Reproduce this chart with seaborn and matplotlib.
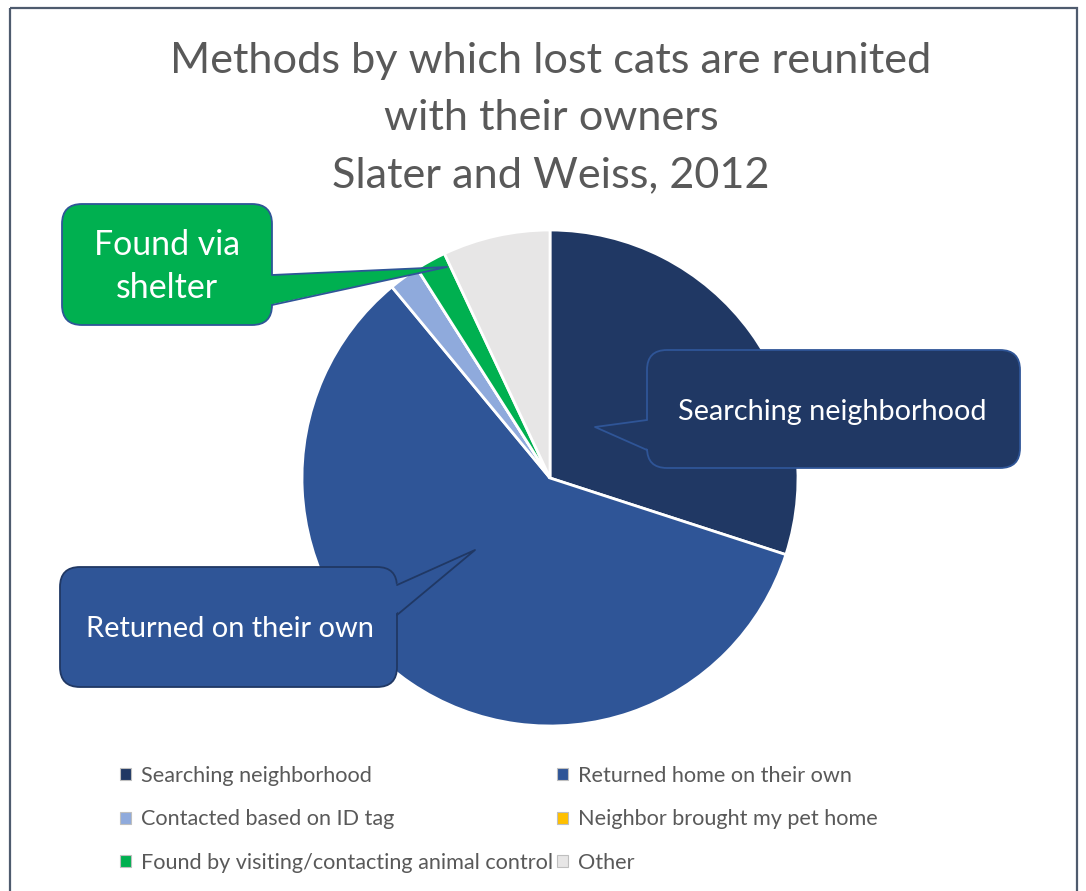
import numpy as np
import matplotlib
matplotlib.use("Agg")
import matplotlib.pyplot as plt
import seaborn as sns
from matplotlib.patches import FancyBboxPatch, Polygon, Rectangle, Patch
from matplotlib.lines import Line2D
from matplotlib.textpath import TextPath
from matplotlib.font_manager import FontProperties

# ---- data ----
categories = ["Searching neighborhood", "Returned home on their own",
              "Contacted based on ID tag", "Neighbor brought my pet home",
              "Found by visiting/contacting animal control", "Other"]
values = [30, 59, 2, 0, 2, 7]
colors = ["#203864", "#2F5597", "#8FAADC", "#FFC000", "#00B050", "#E7E6E6"]
title_lines = ["Methods by which lost cats are reunited",
               "with their owners",
               "Slater and Weiss, 2012"]

sns.set_theme(style="white")
FAMILY = "Lato"
plt.rcParams["font.family"] = [FAMILY, "DejaVu Sans"]

W, H, DPI = 1086, 891, 100
fig = plt.figure(figsize=(W / DPI, H / DPI), dpi=DPI)
fig.patch.set_facecolor("white")


def fit(s, target_px):
    tp = TextPath((0, 0), s, size=100, prop=FontProperties(family=FAMILY))
    w = tp.get_extents().width
    return target_px * 100 * 72 / (w * DPI)


# ---- pie ----
cx, cy, r = 550, 478, 248
pax = fig.add_axes([(cx - r) / W, 1 - (cy + r) / H, 2 * r / W, 2 * r / H])
pal = sns.color_palette(colors)
pax.pie(values, colors=pal, startangle=90, counterclock=False, radius=1,
        wedgeprops=dict(edgecolor="white", linewidth=2.0))
pax.set_xlim(-1.0, 1.0)
pax.set_ylim(-1.0, 1.0)
pax.set_aspect("equal")
pax.axis("off")

# ---- overlay (pixel coordinates) ----
ov = fig.add_axes([0, 0, 1, 1], zorder=5)
ov.set_xlim(0, W)
ov.set_ylim(H, 0)
ov.patch.set_alpha(0)
ov.axis("off")

ov.add_patch(Rectangle((10, 8), 1067, 900, fill=False, edgecolor="#4E5B6E", lw=1.6))

# title
tsize = fit(title_lines[0], 755)
for line, base in zip(title_lines, [73, 130, 187]):
    ov.text(551, base, line, ha="center", va="baseline", fontsize=tsize, color="#595959")


def callout(x0, y0, x1, y1, tail, face, edge, rad=20):
    box = FancyBboxPatch((x0, y0), x1 - x0, y1 - y0,
                         boxstyle=f"round,pad=0,rounding_size={rad}",
                         facecolor=face, edgecolor=edge, lw=1.3, zorder=2)
    ov.add_patch(box)
    b1, tip, b2 = tail
    side = -1 if b1[0] <= x0 + 1 else 1
    ib1 = (b1[0] - side * 3, b1[1])
    ib2 = (b2[0] - side * 3, b2[1])
    ov.add_patch(Polygon([ib1, tip, ib2], closed=True, facecolor=face,
                         edgecolor="none", zorder=3))
    ov.add_line(Line2D([b1[0], tip[0], b2[0]], [b1[1], tip[1], b2[1]],
                       color=edge, lw=1.3, zorder=4))


callout(62, 204, 272, 325, [(272, 275), (447, 267), (272, 305)], "#00B050", "#2F5597")
callout(647, 350, 1020, 468, [(647, 420), (595, 427), (647, 450)], "#203864", "#2F5597")
callout(60, 567, 397, 687, [(397, 585), (475, 550), (397, 615)], "#2F5597", "#203864")

fs_found = fit("Found via", 141)
ov.text(167, 255, "Found via", ha="center", va="baseline", fontsize=fs_found, color="white", zorder=6)
ov.text(167, 298, "shelter", ha="center", va="baseline", fontsize=fs_found, color="white", zorder=6)
ov.text(832, 420, "Searching neighborhood", ha="center", va="baseline",
        fontsize=fit("Searching neighborhood", 306), color="white", zorder=6)
ov.text(229.5, 637, "Returned on their own", ha="center", va="baseline",
        fontsize=fit("Returned on their own", 283), color="white", zorder=6)

# ---- legend ----
lsize = fit(categories[0], 229)
handles = [Patch(facecolor=c, edgecolor="#BFBFBF", lw=0.8) for c in colors]
order = [0, 2, 4, 1, 3, 5]
leg = fig.legend([handles[i] for i in order], [categories[i] for i in order],
                 ncol=2, loc="upper left", bbox_to_anchor=(120 / W, 1 - 766 / H),
                 frameon=False, fontsize=lsize, handlelength=0.5, handleheight=0.5,
                 handletextpad=0.45, columnspacing=0.22, labelspacing=1.08,
                 borderpad=0, borderaxespad=0, labelcolor="#595959")

fig.savefig("out.png", dpi=DPI)
